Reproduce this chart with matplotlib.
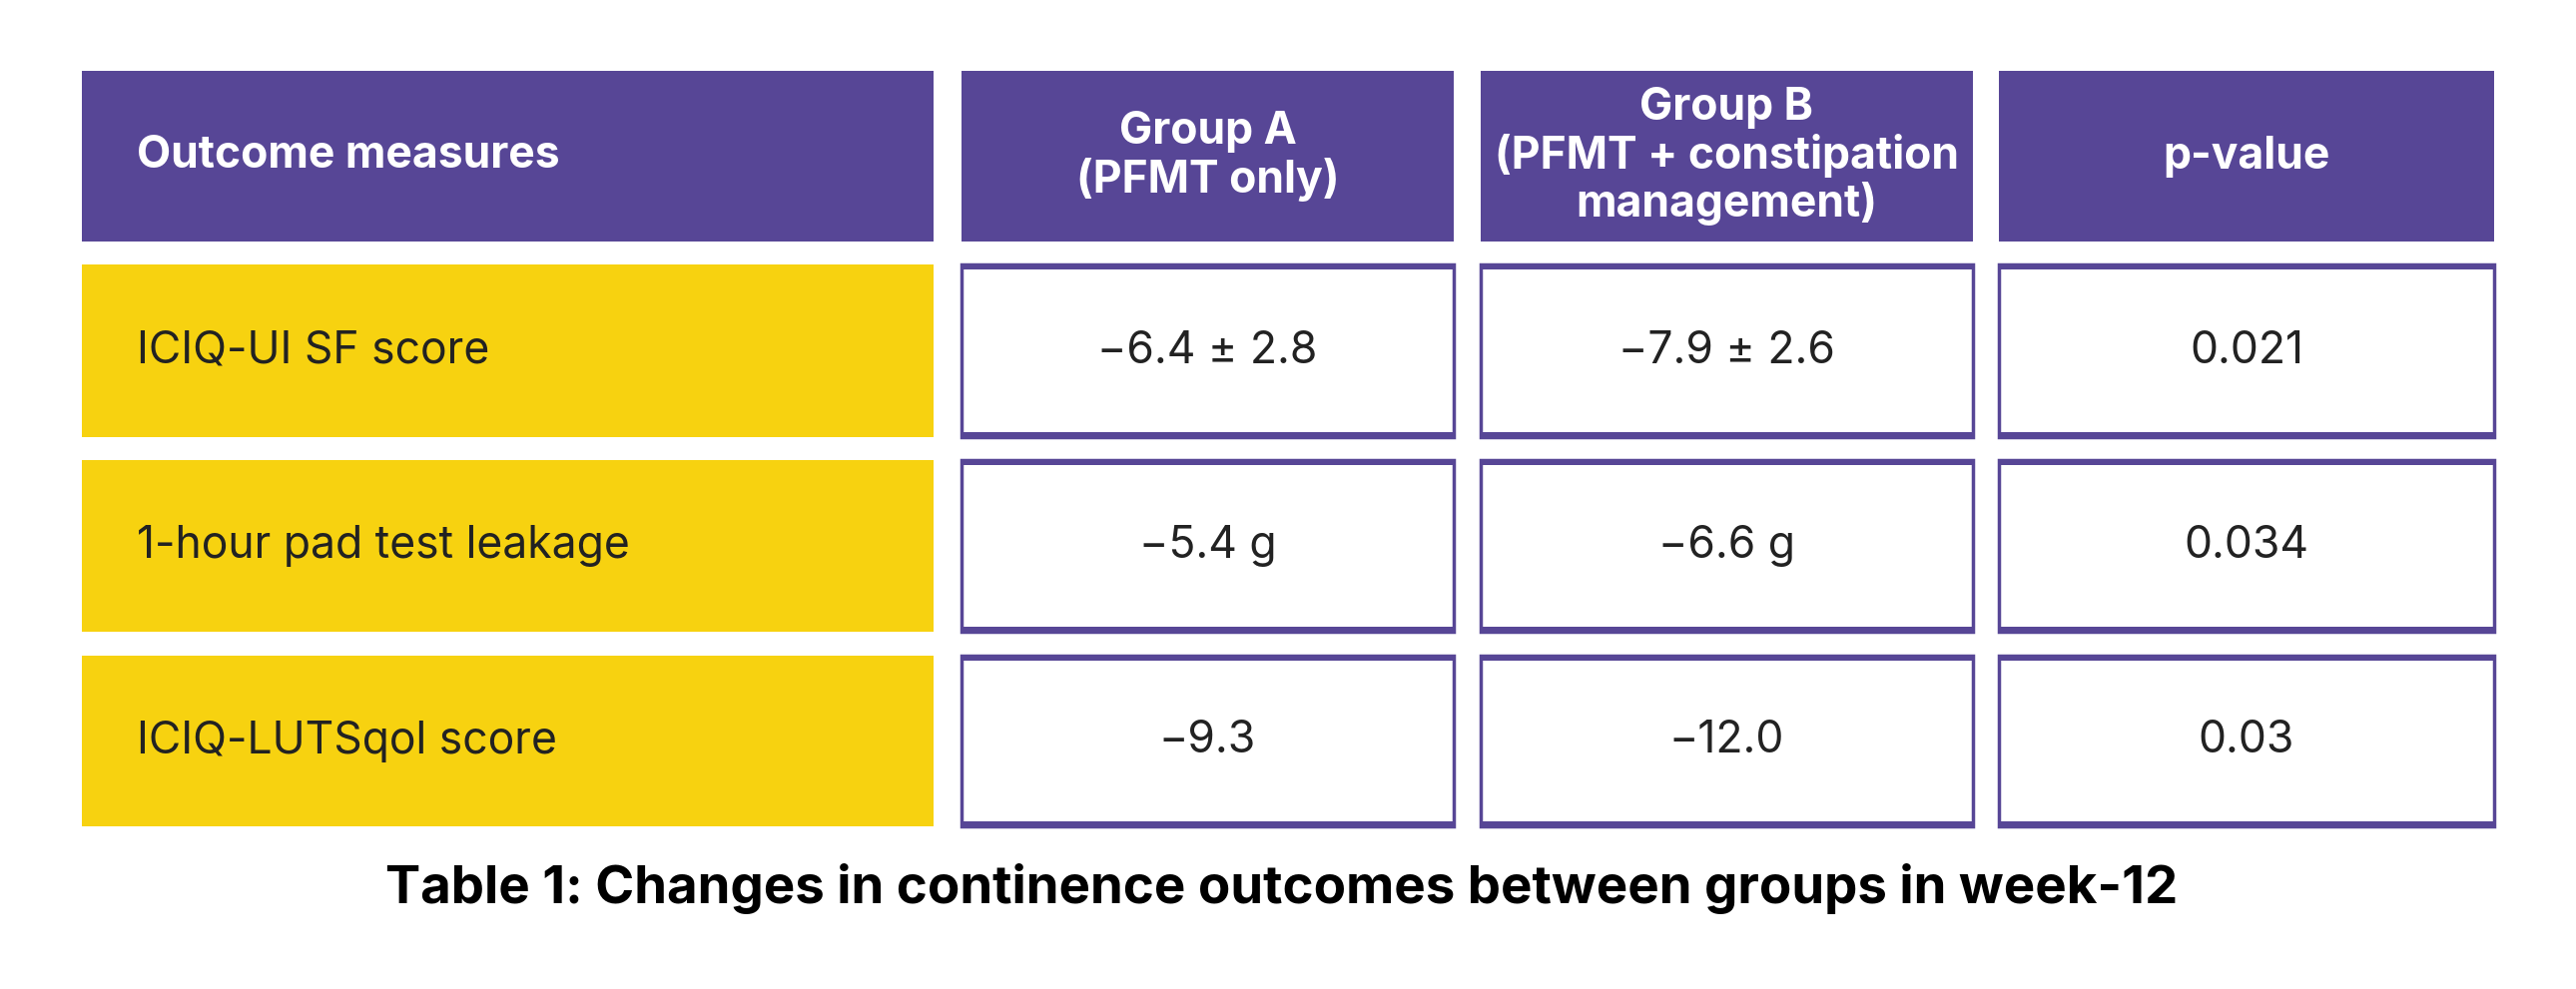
import matplotlib.pyplot as plt
from matplotlib.patches import Rectangle

# table contents
headers = ['Outcome measures', 'Group A\n(PFMT only)',
           'Group B\n(PFMT + constipation\nmanagement)', 'p-value']
measures = ['ICIQ-UI SF score', '1-hour pad test leakage', 'ICIQ-LUTSqol score']
group_a = ['\u22126.4 \u00b1 2.8', '\u22125.4 g', '\u22129.3']
group_b = ['\u22127.9 \u00b1 2.6', '\u22126.6 g', '\u221212.0']
p_values = ['0.021', '0.034', '0.03']
caption = 'Table 1: Changes in continence outcomes between groups in week-12'

purple = '#574696'
yellow = '#F7D210'
font = 'Inter'

# layout in pixels
col_x = [(82, 935), (963, 1456), (1483, 1976), (2002, 2498)]
head_y = (71, 242)
row_y = [(265, 438), (461, 633), (657, 828)]

fig = plt.figure(figsize=(25.8, 9.91), dpi=100)
ax = fig.add_axes([0, 0, 1, 1])
ax.set_xlim(0, 2580)
ax.set_ylim(991, 0)
ax.axis('off')

def box(x, y, **kw):
    ax.add_patch(Rectangle((x[0], y[0]), x[1] - x[0], y[1] - y[0], **kw))

# header row
for i, (x, label) in enumerate(zip(col_x, headers)):
    box(x, head_y, facecolor=purple, edgecolor='none')
    cy = (head_y[0] + head_y[1]) / 2
    if i == 0:
        ax.text(x[0] + 55, cy, label, ha='left', va='center', color='white',
                fontsize=32, fontweight='bold', family=font)
    else:
        ax.text((x[0] + x[1]) / 2, cy, label, ha='center', va='center',
                color='white', fontsize=32, fontweight='bold', family=font,
                linespacing=1.12)

# body rows
for r, y in enumerate(row_y):
    cy = (y[0] + y[1]) / 2
    box(col_x[0], y, facecolor=yellow, edgecolor='none')
    ax.text(col_x[0][0] + 55, cy, measures[r], ha='left', va='center',
            color='#222222', fontsize=32, family=font)
    for c, vals in enumerate([group_a, group_b, p_values]):
        x = col_x[c + 1]
        box(x, y, facecolor='white', edgecolor=purple, linewidth=2.5)
        # thicker top and bottom rules
        ax.add_patch(Rectangle((x[0], y[0]), x[1] - x[0], 5, facecolor=purple,
                               edgecolor='none'))
        ax.add_patch(Rectangle((x[0], y[1] - 5), x[1] - x[0], 5,
                               facecolor=purple, edgecolor='none'))
        ax.text((x[0] + x[1]) / 2, cy, vals[r], ha='center', va='center',
                color='#222222', fontsize=32, family=font)

ax.text(1284, 890, caption, ha='center', va='center', color='black',
        fontsize=38, fontweight='bold', family=font)

fig.savefig('out.png', dpi=100)
